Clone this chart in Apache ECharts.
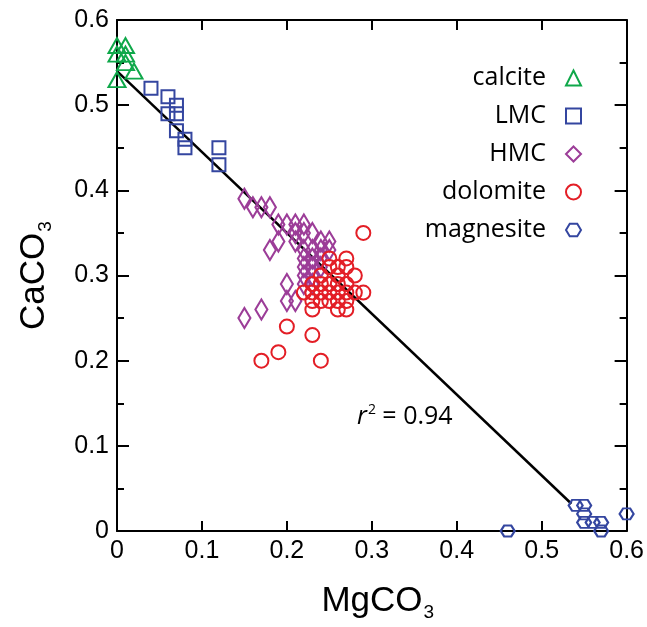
<!DOCTYPE html>
<html>
<head>
<meta charset="utf-8">
<script src="https://cdn.jsdelivr.net/npm/echarts@6/dist/echarts.min.js"></script>
<style>
  html, body { margin: 0; padding: 0; background: #fff; }
  #main { width: 647px; height: 627px; }
</style>
</head>
<body>
<div id="main"></div>
<script>
// [MgCO3, CaCO3] pairs
var calcite = [[0, 0.57], [0.01, 0.57], [0.01, 0.56], [0, 0.56], [0.01, 0.55], [0.02, 0.54], [0, 0.53]];
var lmc = [[0.04, 0.52], [0.06, 0.51], [0.07, 0.50], [0.06, 0.49], [0.07, 0.49], [0.07, 0.47],
           [0.08, 0.46], [0.08, 0.45], [0.12, 0.45], [0.12, 0.43]];
var hmc = [[0.15, 0.39], [0.16, 0.38], [0.17, 0.38], [0.18, 0.38], [0.19, 0.36], [0.20, 0.36],
           [0.21, 0.36], [0.22, 0.36], [0.18, 0.33], [0.19, 0.34], [0.21, 0.34], [0.21, 0.35],
           [0.22, 0.35], [0.23, 0.35], [0.24, 0.34], [0.25, 0.34], [0.22, 0.33], [0.23, 0.33],
           [0.24, 0.33], [0.25, 0.33], [0.22, 0.32], [0.23, 0.32], [0.24, 0.32], [0.22, 0.31],
           [0.23, 0.31], [0.24, 0.31], [0.22, 0.30], [0.23, 0.30], [0.22, 0.29], [0.23, 0.29],
           [0.20, 0.29], [0.20, 0.27], [0.21, 0.27], [0.17, 0.26], [0.15, 0.25]];
var dolomite = [[0.29, 0.35], [0.25, 0.32], [0.27, 0.32], [0.25, 0.31], [0.26, 0.31], [0.27, 0.31],
                [0.28, 0.30], [0.26, 0.30], [0.24, 0.30], [0.23, 0.29], [0.24, 0.29], [0.25, 0.29],
                [0.26, 0.29], [0.27, 0.29], [0.22, 0.28], [0.23, 0.28], [0.24, 0.28], [0.25, 0.28],
                [0.26, 0.28], [0.27, 0.28], [0.28, 0.28], [0.29, 0.28], [0.23, 0.27], [0.24, 0.27],
                [0.25, 0.27], [0.26, 0.27], [0.27, 0.27], [0.23, 0.26], [0.26, 0.26], [0.27, 0.26],
                [0.20, 0.24], [0.23, 0.23], [0.19, 0.21], [0.17, 0.20], [0.24, 0.20]];
var magnesite = [[0.46, 0.00], [0.54, 0.03], [0.55, 0.03], [0.55, 0.02], [0.55, 0.01], [0.56, 0.01],
                 [0.57, 0.01], [0.57, 0.00], [0.60, 0.02]];
// regression line end points
var fitLine = [[0, 0.54], [0.535, 0.032]];
var rSquared = '0.94';

var hexagon = 'path://M0,5 L3,0 L9,0 L12,5 L9,10 L3,10 Z';

function hollow(c, w) {
    return { color: 'rgba(255,255,255,0)', borderColor: c, borderWidth: w || 2, opacity: 1 };
}

var black = '#000';
var tickFont = { color: black, fontSize: 25, fontFamily: 'Liberation Sans' };

function xAx(pos, withLabel) {
    return {
        type: 'value', min: 0, max: 0.6, interval: 0.1, position: pos,
        axisLine: { onZero: false, lineStyle: { color: black, width: 2 } },
        axisTick: { inside: true, length: 10, lineStyle: { color: black, width: 2 } },
        axisLabel: Object.assign({ show: withLabel, margin: 8 }, tickFont),
        splitLine: { show: false }
    };
}
function yAx(pos, withLabel) {
    return {
        type: 'value', min: 0, max: 0.6, interval: 0.1, position: pos,
        axisLine: { onZero: false, lineStyle: { color: black, width: 2 } },
        axisTick: { inside: true, length: 12, lineStyle: { color: black, width: 2 } },
        minorTick: { show: true, splitNumber: 2, length: 7, lineStyle: { color: black, width: 2 } },
        axisLabel: Object.assign({ show: withLabel, margin: 8 }, tickFont),
        splitLine: { show: false }
    };
}

var nameRich = {
    a: { fontSize: 35, fontFamily: 'Liberation Sans', color: black },
    b: { fontSize: 19, fontFamily: 'Liberation Sans', color: black, padding: [22, 0, 0, 1] }
};
var xBottom = xAx('bottom', true);
xBottom.name = '{a|MgCO}{b|3}';
xBottom.nameLocation = 'middle';
xBottom.nameGap = 50;
xBottom.nameTextStyle = { rich: nameRich, padding: [0, 0, 0, 12] };
var yLeft = yAx('left', true);
yLeft.name = '{a|CaCO}{b|3}';
yLeft.nameLocation = 'middle';
yLeft.nameGap = 62;
yLeft.nameTextStyle = { rich: nameRich };

var chart = echarts.init(document.getElementById('main'));
chart.setOption({
    animation: false,
    backgroundColor: '#fff',
    grid: { left: 117, right: 18, top: 20, bottom: 93 },
    xAxis: [xBottom, xAx('top', false)],
    yAxis: [yLeft, yAx('right', false)],
    legend: {
        data: ['calcite', 'LMC', 'HMC', 'dolomite', 'magnesite'],
        orient: 'vertical', align: 'right',
        right: 60, top: 60,
        itemWidth: 15, itemHeight: 15, itemGap: 12,
        textStyle: { color: black, fontSize: 25, fontFamily: 'Open Sans', lineHeight: 26, padding: [0, 15, 0, 0] }
    },
    graphic: [{
        type: 'text', left: 357, top: 403,
        style: {
            text: '{i|r}{s|2}{n| = ' + rSquared + '}',
            rich: {
                i: { fontSize: 25, fontStyle: 'italic', fontFamily: 'Open Sans', fill: black },
                s: { fontSize: 14, fontFamily: 'Open Sans', fill: black, padding: [0, 0, 14, 1] },
                n: { fontSize: 25, fontFamily: 'Open Sans', fill: black }
            }
        }
    }],
    series: [
        { type: 'line', data: fitLine, symbol: 'none', silent: true, z: 1,
          lineStyle: { color: black, width: 2.5 } },
        { name: 'calcite', type: 'scatter', data: calcite, symbol: 'triangle', symbolSize: [17, 15], z: 2,
          itemStyle: hollow('#0fa84a') },
        { name: 'LMC', type: 'scatter', data: lmc, symbol: 'rect', symbolSize: 13, z: 2,
          itemStyle: hollow('#3446a0') },
        { name: 'HMC', type: 'scatter', data: hmc, symbol: 'diamond', symbolSize: [12, 20], z: 2,
          itemStyle: hollow('#9c3d98', 2.2) },
        { name: 'dolomite', type: 'scatter', data: dolomite, symbol: 'circle', symbolSize: 14, z: 2,
          itemStyle: hollow('#e31e26') },
        { name: 'magnesite', type: 'scatter', data: magnesite, symbol: hexagon, symbolSize: [14, 11], z: 2,
          itemStyle: hollow('#3446a0') }
    ]
});
</script>
</body>
</html>
